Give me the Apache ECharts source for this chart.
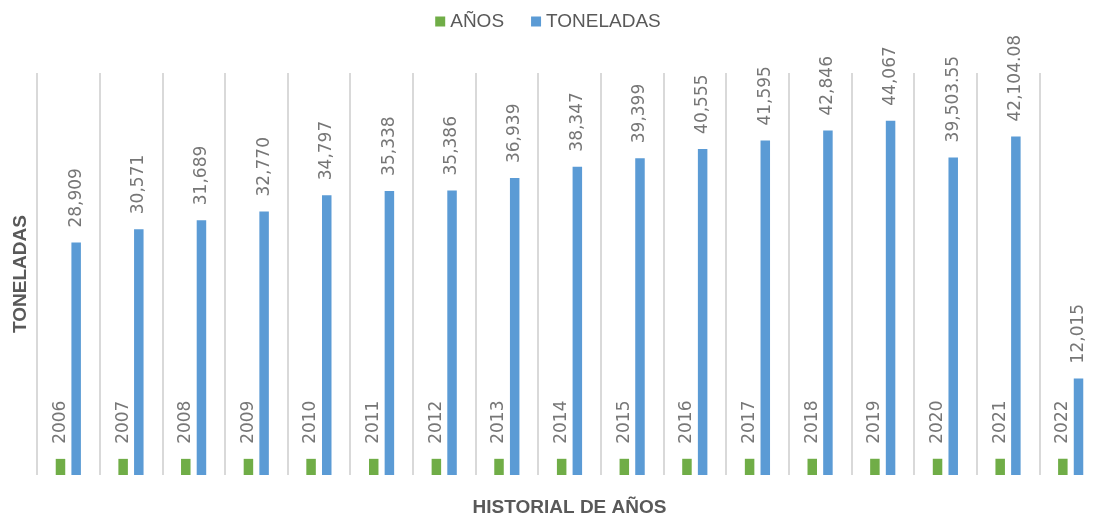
<!DOCTYPE html>
<html>
<head>
<meta charset="utf-8">
<script src="https://cdn.jsdelivr.net/npm/echarts@6/dist/echarts.min.js"></script>
<style>
  html, body { margin: 0; padding: 0; background: #fff; }
  #chart { width: 1096px; height: 520px; }
</style>
</head>
<body>
<div id="chart"></div>
<script>
const years = ['2006', '2007', '2008', '2009', '2010', '2011', '2012', '2013', '2014',
  '2015', '2016', '2017', '2018', '2019', '2020', '2021', '2022']
const anos = [2006, 2007, 2008, 2009, 2010, 2011, 2012, 2013, 2014,
  2015, 2016, 2017, 2018, 2019, 2020, 2021, 2022]
const toneladas = [28909, 30571, 31689, 32770, 34797, 35338, 35386, 36939, 38347,
  39399, 40555, 41595, 42846, 44067, 39503.55, 42104.08, 12015]

const chart = echarts.init(document.getElementById('chart'))
const textGray = '#595959'
const labelGray = '#767676'

const barLabel = (fmt) => ({
  show: true,
  position: 'top',
  rotate: 90,
  align: 'left',
  verticalAlign: 'middle',
  distance: 15,
  color: labelGray,
  fontFamily: 'DejaVu Sans',
  fontSize: 17,
  formatter: fmt
})

chart.setOption({
  animation: false,
  textStyle: { fontFamily: 'Liberation Sans' },
  legend: {
    data: ['AÑOS', 'TONELADAS'],
    top: 7,
    left: 'center',
    itemWidth: 10,
    itemHeight: 10,
    itemGap: 27,
    icon: 'rect',
    textStyle: { color: textGray, fontSize: 19, fontFamily: 'Liberation Sans' }
  },
  grid: { left: 37, top: 73, width: 1065, height: 402, outerBoundsMode: 'none' },
  xAxis: {
    type: 'category',
    data: years,
    axisLine: { show: false },
    axisTick: { show: false },
    axisLabel: { show: false },
    splitLine: { show: true, interval: 0, lineStyle: { color: '#d9d9d9', width: 2 } },
    name: 'HISTORIAL DE AÑOS',
    nameLocation: 'middle',
    nameGap: 23,
    nameTextStyle: { color: textGray, fontSize: 19, fontWeight: 'bold', fontFamily: 'Liberation Sans' }
  },
  yAxis: {
    type: 'value',
    min: 0,
    max: 50000,
    axisLine: { show: false },
    axisTick: { show: false },
    axisLabel: { show: false },
    splitLine: { show: false },
    name: 'TONELADAS',
    nameLocation: 'middle',
    nameRotate: 90,
    nameGap: 7,
    nameTextStyle: { color: textGray, fontSize: 19, fontWeight: 'bold', fontFamily: 'Liberation Sans' }
  },
  series: [
    {
      name: 'AÑOS',
      type: 'bar',
      data: anos,
      barWidth: 9.5,
      barGap: '65%',
      itemStyle: { color: '#70ad47' },
      label: barLabel(p => String(p.value))
    },
    {
      name: 'TONELADAS',
      type: 'bar',
      data: toneladas,
      barWidth: 9.5,
      itemStyle: { color: '#5b9bd5' },
      label: barLabel(p => p.value.toLocaleString('en-US', { maximumFractionDigits: 2 }))
    }
  ]
})
</script>
</body>
</html>
